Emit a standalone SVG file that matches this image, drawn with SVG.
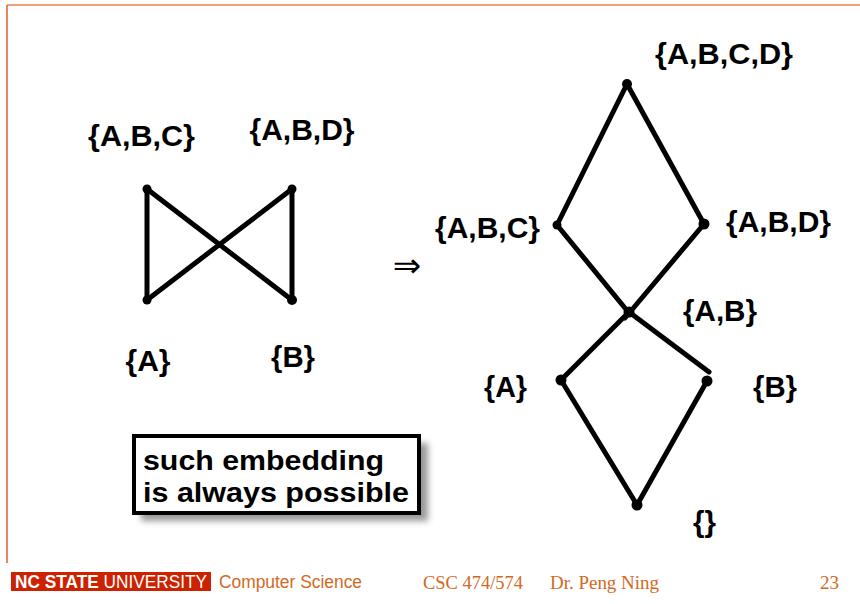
<svg xmlns="http://www.w3.org/2000/svg" width="860" height="604" viewBox="0 0 860 604">
<defs>
<style>
.lbl{font-family:"Liberation Sans",Arial,sans-serif;font-weight:bold;font-size:29px;fill:#000;text-anchor:middle}
.edge{stroke:#000;stroke-width:5;stroke-linecap:round;fill:none}
.dot{fill:#000}
.ft{font-family:"Liberation Serif","Times New Roman",serif;font-size:19px;fill:#d2691e}
.note{font-family:"Liberation Sans",Arial,sans-serif;font-weight:bold;font-size:28px;fill:#000}
</style>
<filter id="sh" x="-10%" y="-20%" width="130%" height="160%"><feGaussianBlur stdDeviation="3"/></filter>
</defs>
<rect width="860" height="604" fill="#fff"/>
<g id="frame">
<line x1="7" y1="5" x2="860" y2="5" stroke="#f0a080" stroke-width="2"/>
<line x1="7" y1="5" x2="7" y2="563" stroke="#e06020" stroke-width="1.5"/>
</g>
<g id="connectors">
<line class="edge" x1="147" y1="189" x2="147" y2="300"/>
<line class="edge" x1="147" y1="189" x2="292" y2="300"/>
<line class="edge" x1="292" y1="189" x2="147" y2="300"/>
<line class="edge" x1="292" y1="189" x2="292" y2="300"/>
<line class="edge" x1="627" y1="84" x2="557" y2="225"/>
<line class="edge" x1="627" y1="84" x2="704" y2="224"/>
<line class="edge" x1="557" y1="225" x2="629" y2="313"/>
<line class="edge" x1="704" y1="224" x2="625" y2="318"/>
<line class="edge" x1="629" y1="312" x2="561" y2="380"/>
<line class="edge" x1="629" y1="312" x2="709" y2="372"/>
<line class="edge" x1="561" y1="380" x2="637" y2="505"/>
<line class="edge" x1="707" y1="381" x2="637" y2="505"/>
</g>
<g id="n-left-abc"><circle class="dot" cx="147" cy="189" r="4.5"/><text class="lbl" x="141.5" y="146" textLength="107" lengthAdjust="spacingAndGlyphs">{A,B,C}</text></g>
<g id="n-left-abd"><circle class="dot" cx="292" cy="189" r="4.5"/><text class="lbl" x="302" y="140" textLength="105" lengthAdjust="spacingAndGlyphs">{A,B,D}</text></g>
<g id="n-left-a"><circle class="dot" cx="147" cy="300" r="4.5"/><text class="lbl" x="148" y="371" textLength="45" lengthAdjust="spacingAndGlyphs">{A}</text></g>
<g id="n-left-b"><circle class="dot" cx="292" cy="300" r="5"/><text class="lbl" x="293" y="367" textLength="44" lengthAdjust="spacingAndGlyphs">{B}</text></g>
<g id="arrow"><text x="407" y="277" font-family="DejaVu Sans,sans-serif" font-size="34" text-anchor="middle" fill="#000">⇒</text></g>
<g id="n-abcd"><circle class="dot" cx="627" cy="84" r="5"/><text class="lbl" x="724" y="64" textLength="138" lengthAdjust="spacingAndGlyphs">{A,B,C,D}</text></g>
<g id="n-abc"><circle class="dot" cx="557" cy="225" r="4.5"/><text class="lbl" x="487.5" y="238" textLength="105" lengthAdjust="spacingAndGlyphs">{A,B,C}</text></g>
<g id="n-abd"><circle class="dot" cx="704" cy="224" r="5.5"/><text class="lbl" x="778.5" y="232" textLength="105" lengthAdjust="spacingAndGlyphs">{A,B,D}</text></g>
<g id="n-ab"><circle class="dot" cx="629" cy="312" r="5.5"/><text class="lbl" x="720" y="321" textLength="74" lengthAdjust="spacingAndGlyphs">{A,B}</text></g>
<g id="n-a"><circle class="dot" cx="561" cy="380" r="5.5"/><text class="lbl" x="505.5" y="397" textLength="43" lengthAdjust="spacingAndGlyphs">{A}</text></g>
<g id="n-b"><circle class="dot" cx="707" cy="381" r="5.5"/><text class="lbl" x="775" y="397" textLength="44" lengthAdjust="spacingAndGlyphs">{B}</text></g>
<g id="n-empty"><circle class="dot" cx="637" cy="505" r="5.5"/><text class="lbl" x="704.5" y="532" textLength="23" lengthAdjust="spacingAndGlyphs">{}</text></g>
<g id="note">
<rect x="141" y="443" width="287" height="78" fill="#555" opacity="0.6" filter="url(#sh)"/>
<rect x="134" y="436" width="285" height="77" fill="#fff" stroke="#000" stroke-width="4"/>
<text class="note" x="143" y="470" textLength="241" lengthAdjust="spacingAndGlyphs">such embedding</text>
<text class="note" x="143" y="502" textLength="266" lengthAdjust="spacingAndGlyphs">is always possible</text>
</g>
<g id="footer">
<rect x="11" y="572" width="200" height="19" fill="#cc2200"/>
<text x="15" y="588" font-family="Liberation Sans Narrow,Liberation Sans,sans-serif" font-size="18" fill="#fff" textLength="192" lengthAdjust="spacingAndGlyphs"><tspan font-weight="bold">NC STATE</tspan> UNIVERSITY</text>
<text x="219" y="588" font-family="Liberation Sans Narrow,Liberation Sans,sans-serif" font-size="18" fill="#d2691e" textLength="143" lengthAdjust="spacingAndGlyphs">Computer Science</text>
<text class="ft" x="423" y="589" textLength="100" lengthAdjust="spacingAndGlyphs">CSC 474/574</text>
<text class="ft" x="550" y="589" textLength="109" lengthAdjust="spacingAndGlyphs">Dr. Peng Ning</text>
<text class="ft" x="820" y="589">23</text>
</g>
</svg>
